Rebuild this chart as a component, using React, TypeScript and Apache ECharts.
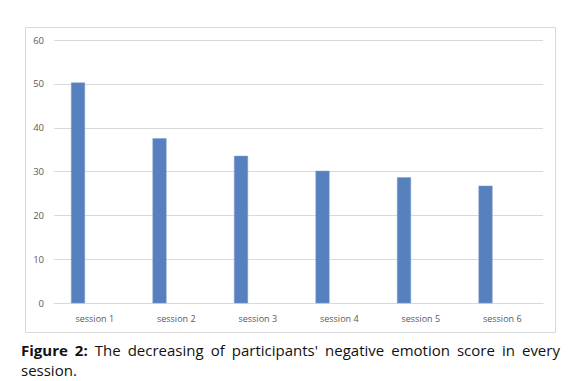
import React, { useEffect, useRef } from "react";
import * as echarts from "echarts";

const categories = ["session 1", "session 2", "session 3", "session 4", "session 5", "session 6"];
const scores = [50.3, 37.6, 33.6, 30.2, 28.7, 26.8];
const emptySeries: number[] = [];
const captionBold = ["Figure", "2:"];
const captionLine1 = ["The", "decreasing", "of", "participants'", "negative", "emotion", "score", "in", "every"];
const captionLine2 = "session.";

export default function App() {
  const ref = useRef<HTMLDivElement>(null);
  useEffect(() => {
    if (!ref.current) return;
    const chart = echarts.init(ref.current, null, { renderer: "svg" });
    chart.setOption({
      animation: false,
      graphic: [
        {
          type: "rect",
          shape: { x: 25.5, y: 27.5, width: 530, height: 305 },
          style: { fill: "none", stroke: "#d9d9d9", lineWidth: 1 },
          silent: true,
        },
      ],
      grid: { left: 54, right: 33, top: 40, bottom: 36.7, containLabel: false },
      xAxis: {
        type: "category",
        data: categories,
        axisLine: { show: true, lineStyle: { color: "#d9d9d9" } },
        axisTick: { show: false },
        axisLabel: { color: "#595959", fontSize: 9, fontFamily: "Open Sans", margin: 11 },
      },
      yAxis: {
        type: "value",
        min: 0,
        max: 60,
        interval: 10,
        axisLine: { show: false },
        axisTick: { show: false },
        splitLine: { lineStyle: { color: "#d9d9d9", width: 1 } },
        axisLabel: { color: "#595959", fontSize: 9.5, fontFamily: "Open Sans", margin: 10 },
      },
      series: [
        {
          type: "bar",
          data: scores,
          barWidth: 14,
          barGap: "139%",
          itemStyle: { color: "#5780bf", borderColor: "#7e9fd3", borderWidth: 0.5 },
        },
        {
          type: "bar",
          data: emptySeries,
          barWidth: 14,
        },
      ],
    });
    return () => chart.dispose();
  }, []);
  const textStyle: React.CSSProperties = {
    fontFamily: "'Open Sans', sans-serif",
    fontSize: 15,
    lineHeight: "15px",
    color: "#111",
    whiteSpace: "nowrap",
  };
  return (
    <div style={{ position: "absolute", left: 0, top: 0, width: 576, height: 381, background: "#fff", overflow: "hidden" }}>
      <div ref={ref} style={{ position: "absolute", left: 0, top: 0, width: 576, height: 340 }} />
      <div
        style={{
          position: "absolute",
          left: 21,
          top: 342.7,
          width: 539,
          height: 15,
          display: "flex",
          justifyContent: "space-between",
        }}
      >
        {captionBold.map((w) => (
          <span key={w} style={{ ...textStyle, fontWeight: 700 }}>{w}</span>
        ))}
        {captionLine1.map((w) => (
          <span key={w} style={textStyle}>{w}</span>
        ))}
      </div>
      <div style={{ position: "absolute", left: 21, top: 363.2, ...textStyle }}>{captionLine2}</div>
    </div>
  );
}
